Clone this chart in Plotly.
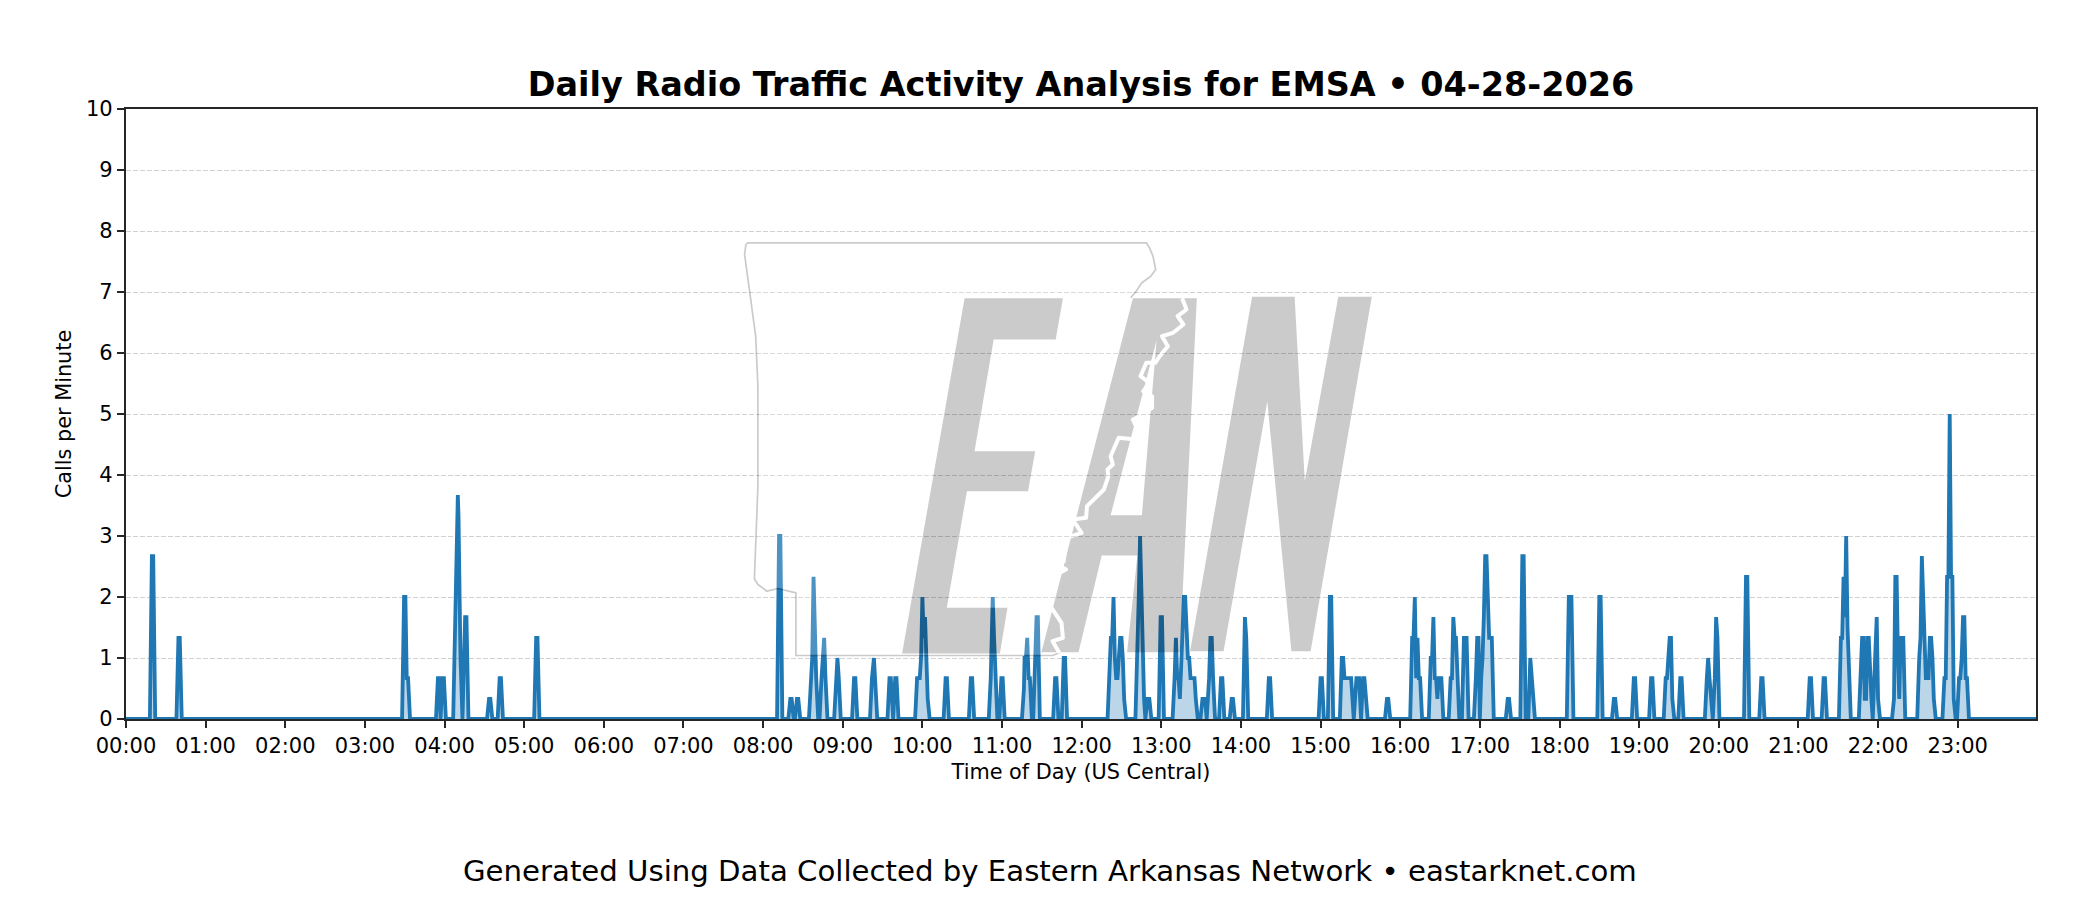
import base64
import numpy as np
import plotly.graph_objects as go

TITLE = "Daily Radio Traffic Activity Analysis for EMSA • 04-28-2026"
FOOTER = "Generated Using Data Collected by Eastern Arkansas Network • eastarknet.com"
hour_labels = [f"{h:02d}:00" for h in range(24)]
hour_minutes = [h * 60 for h in range(24)]
y_ticks = list(range(0, 11))

night_min = [19.5, 20.5, 39.5, 40.5, 209.5, 210.5, 211.5, 212.5, 235, 236, 237, 238.5, 239.5,
             248, 249, 250, 250.5, 251, 252, 253.5, 255.5, 256.5, 273.5, 274.5, 281.5, 282.5, 309, 310]
night_val = [2.67, 2.67, 1.33, 1.33, 2, 2, .67, .67, .67, .67, 0, .67, .67,
             1.5, 2.7, 3.67, 3.33, 2.33, 1, 0, 1.67, 1.67, .33, .33, .67, .67, 1.33, 1.33]

morning_min = [492, 493, 500.5, 501.5, 505.5, 506.5, 516, 517, 518, 519, 520, 524, 525, 526, 527,
               535, 536, 537, 548.5, 549.5, 562, 563.5, 564.5, 575.2, 576.2, 579.5, 580.5,
               596, 597, 598, 599, 600, 601, 602, 603, 604, 617.5, 618.5, 636.5, 637.5,
               651.5, 652.3, 653, 654, 655, 659.5, 660.5, 676.5, 677, 678, 679, 680, 681,
               685, 686, 687, 700, 701, 706.5, 707.5]
morning_val = [3, 3, .33, .33, .33, .33, .67, 1, 2.33, 1.33, .67, .67, 1, 1.33, .67,
               .67, 1, .67, .67, .67, .67, 1, .67, .67, .67, .67, .67,
               .67, .67, .67, 1, 2, 1.33, 1.67, 1, .33, .67, .67, .67, .67,
               .67, 1.33, 2, 1.33, .67, .67, .67, .5, 1, 1, 1.33, .67, .67,
               1, 1.67, 1.67, .67, .67, 1, 1]

midday_min = [741, 742, 743, 744, 745, 746, 747, 748, 749, 750, 751, 752,
              762, 763, 764, 765, 766, 767, 768, 769.5, 770.5, 771, 779.5, 780.5,
              790, 791, 792, 793, 794, 795, 796, 797, 798, 799, 800, 801, 802, 803, 804, 805, 806,
              811, 812, 813, 814.2, 816, 817, 818, 819, 825, 826, 833, 834]
midday_val = [.67, 1.33, 1.33, 2, 1, .67, .67, 1, 1.33, 1.33, 1, .33,
              1, 2, 3, 2, 1, .33, 0, .33, .33, .33, 1.67, 1.67,
              .67, 1.33, .67, .67, .33, 1, 1.67, 2, 2, 1.33, 1, 1, .67, .67, .67, .67, .33,
              .33, .33, .33, 0, .67, 1.33, 1.33, .67, .67, .67, .33, .33]

afternoon_min = [843, 844, 861, 862, 900, 901, 907, 908, 916, 917, 918, 919, 920, 921, 922, 923, 924, 925,
                 926, 927, 928, 929, 930.5, 932, 933, 934, 950, 951,
                 969, 970, 971, 972, 973, 974, 975, 983, 984, 985, 986, 987, 988, 989, 990, 991,
                 998, 999, 1000, 1001, 1002, 1003, 1008, 1009, 1010,
                 1017, 1018, 1019, 1020, 1021, 1022, 1023, 1024, 1025, 1026, 1027, 1028, 1029]
afternoon_val = [1.67, 1.33, .67, .67, .67, .67, 2, 2, 1, 1, .67, .67, .67, .67, .67, .67, .33, 0,
                 .33, .67, .67, .67, 0, .67, .67, .33, .33, .33,
                 1.33, 1.33, 2, .67, 1.33, .67, .67, 1, 1, 1.67, .67, .67, .33, .67, .67, .67,
                 .67, .67, 1.67, 1.33, 1.33, .67, 1.33, 1.33, 1.33,
                 .67, 1.33, 1.33, 0, .67, 1, 1.67, 2.67, 2.67, 2, 1.33, 1.33, 1.33]

evening_min = [1041, 1042, 1052, 1053, 1058, 1059, 1060, 1087, 1088, 1089, 1110, 1111, 1121, 1122,
               1136, 1137, 1149, 1150, 1160, 1161, 1162, 1163, 1164, 1165, 1171, 1172,
               1191, 1192, 1193, 1194, 1195.5, 1197, 1198, 1199, 1220.5, 1221.5, 1232, 1233, 1268.5, 1269.5, 1279, 1280]
evening_val = [.33, .33, 2.67, 2.67, 1, .67, .33, 2, 2, 2, 2, 2, .33, .33,
               .67, .67, .67, .67, .67, .67, 1, 1.33, 1.33, .33, .67, .67,
               .67, 1, .67, .33, 0, .67, 1.67, 1.33, 2.33, 2.33, .67, .67, .67, .67, .67, .67]

late_min = [1292, 1293, 1294, 1295, 1296, 1297, 1298,
            1307, 1308, 1309, 1310, 1311, 1312, 1313, 1314, 1315, 1316, 1317, 1318, 1319, 1320,
            1332, 1333, 1334, 1335, 1336, 1337, 1338, 1339,
            1351, 1352, 1353, 1354, 1355, 1356, 1357, 1358, 1359, 1360, 1361, 1362,
            1370, 1371, 1372, 1373, 1374, 1375, 1376, 1377,
            1381, 1382, 1383, 1384, 1385, 1386, 1387]
late_val = [1.33, 1.33, 2.33, 1.67, 3, 1.5, .67,
            .67, 1.33, 1.33, .33, .33, 1.33, 1.33, .67, .33, 0, .67, 1, 1.67, .33,
            .33, 2.33, 2.33, 1, .33, 1.33, 1.33, 1.33,
            1, 1.33, 2.67, 2, 1.33, .67, .67, .67, 1.33, 1.33, 1, .33,
            .67, .67, 2.33, 2.33, 5, 2.33, 2.33, .33,
            .67, .67, 1, 1.67, 1.67, .67, .67]

minutes = night_min + morning_min + midday_min + afternoon_min + evening_min + late_min
values = night_val + morning_val + midday_val + afternoon_val + evening_val + late_val

# the curve returns to the zero line between bursts of traffic
xs, ys = [0.0], [0.0]
for m, v in zip(minutes, values):
    if m - xs[-1] > 3:
        if ys[-1] != 0:
            xs.append(xs[-1] + 1.5); ys.append(0.0)
        xs.append(m - 1.5); ys.append(0.0)
    xs.append(m); ys.append(v)
xs += [xs[-1] + 1.5, 1439.0]
ys += [0.0, 0.0]

# ---- EAN / Arkansas watermark, drawn in page pixels -----------------------
P_L, P_R, P_T, P_B = 126, 2036, 109, 719


def pts(zoom_pts):
    return " ".join(f"{720 + x / 2.24:.1f},{219.5 + y / 3:.1f}" for x, y in zoom_pts)


letter_e = [(548, 236), (768, 236), (752, 360), (613, 360), (570, 695), (706, 695), (690, 815),
            (553, 815), (508, 1165), (644, 1165), (627, 1302), (408, 1302)]
letter_a = [(925, 236), (1068, 236), (1030, 1298), (912, 1298), (935, 1008), (855, 1008),
            (803, 1298), (720, 1298)]
letter_a_hole = [(978, 362), (945, 887), (875, 887)]
letter_n = [(1192, 232), (1287, 232), (1310, 785), (1385, 232), (1460, 232), (1323, 1295),
            (1280, 1295), (1226, 545), (1128, 1295), (1053, 1295)]
map_edge = [(760, 1300), (745, 1308), (170, 1308), (170, 1120), (130, 1107), (105, 1115), (85, 1095),
            (77, 1078), (85, 800), (85, 500), (80, 350), (55, 105), (58, 75), (62, 70), (955, 70),
            (962, 85), (970, 110), (976, 150), (965, 170), (945, 190), (932, 215), (920, 235)]
river = [(920, 235), (1035, 236), (1045, 270), (1025, 290), (1038, 315), (1015, 340), (990, 350),
         (1003, 380), (985, 410), (975, 430), (955, 430), (942, 470), (962, 490), (948, 515),
         (968, 530), (968, 565), (940, 590), (925, 600), (935, 630), (930, 660), (893, 655),
         (875, 710), (880, 735), (868, 750), (870, 770), (860, 810), (822, 860), (820, 895),
         (790, 900), (810, 940), (775, 955), (770, 1025), (750, 1030), (775, 1050), (740, 1075),
         (735, 1105), (745, 1130), (740, 1160), (765, 1210), (768, 1255), (745, 1265), (760, 1300)]

svg = f'''<svg xmlns="http://www.w3.org/2000/svg" viewBox="{P_L} {P_T} {P_R - P_L} {P_B - P_T}" width="{P_R - P_L}" height="{P_B - P_T}">
<polygon points="{pts(map_edge + river[1:])}" fill="white"/>
<polygon points="{pts(letter_e)}" fill="black"/>
<path d="M{pts(letter_a)}Z M{pts(letter_a_hole)}Z" fill="black" fill-rule="evenodd"/>
<polygon points="{pts(letter_n)}" fill="black"/>
<polyline points="{pts(map_edge)}" fill="none" stroke="black" stroke-width="1.7" stroke-linejoin="round"/>
<polyline points="{pts(river[1:])}" fill="none" stroke="white" stroke-width="4" stroke-linejoin="round"/>
</svg>'''
logo = "data:image/svg+xml;base64," + base64.b64encode(svg.encode()).decode()

fig = go.Figure(go.Scatter(
    x=xs, y=ys, mode="lines", fill="tozeroy",
    line=dict(color="#1f77b4", width=3.8),
    fillcolor="rgba(31,119,180,0.3)",
    hoverinfo="skip",
))

FONT = "DejaVu Sans"
AXIS = "#262626"
fig.update_layout(
    width=2100, height=900, autosize=False, showlegend=False,
    plot_bgcolor="white", paper_bgcolor="white",
    margin=dict(l=P_L, r=2100 - P_R, t=P_T, b=900 - P_B),
    font=dict(family=FONT, color="black", size=20),
    title=dict(text=f"<b>{TITLE}</b>", x=(P_L + P_R) / 2 / 2100, xanchor="center", y=1 - 84 / 900, yanchor="middle",
               font=dict(family=FONT, size=33.45, color="black")),
    images=[dict(source=logo, xref="paper", yref="paper", x=0, y=1, sizex=1, sizey=1,
                 xanchor="left", yanchor="top", sizing="stretch", layer="above", opacity=0.2)],
    annotations=[dict(text=FOOTER, xref="paper", yref="paper", x=(1050 - P_L) / (P_R - P_L),
                      y=-(871 - P_B) / (P_B - P_T),
                      xanchor="center", yanchor="middle", showarrow=False,
                      font=dict(family=FONT, size=29.2, color="black"))],
)
fig.update_xaxes(range=[0, 1439], tickmode="array", tickvals=hour_minutes, ticktext=hour_labels,
                 ticks="outside", ticklen=7, tickwidth=2.2, tickcolor=AXIS,
                 tickfont=dict(size=21), showgrid=False, zeroline=False,
                 showline=True, mirror=True, linecolor=AXIS, linewidth=2.3,
                 title=dict(text="Time of Day (US Central)", font=dict(size=20.8), standoff=7))
fig.update_yaxes(range=[0, 10], tickmode="array", tickvals=y_ticks,
                 ticks="outside", ticklen=7, tickwidth=2.2, tickcolor=AXIS,
                 tickfont=dict(size=21), showgrid=True, gridcolor="rgba(0,0,0,0.18)", gridwidth=1,
                 griddash="5px,2px", zeroline=False,
                 showline=True, mirror=True, linecolor=AXIS, linewidth=2.3,
                 title=dict(text="Calls per Minute", font=dict(size=20.8), standoff=9))

fig.write_html("out.html", config=dict(displayModeBar=False), post_script="document.body.style.margin='0';")
